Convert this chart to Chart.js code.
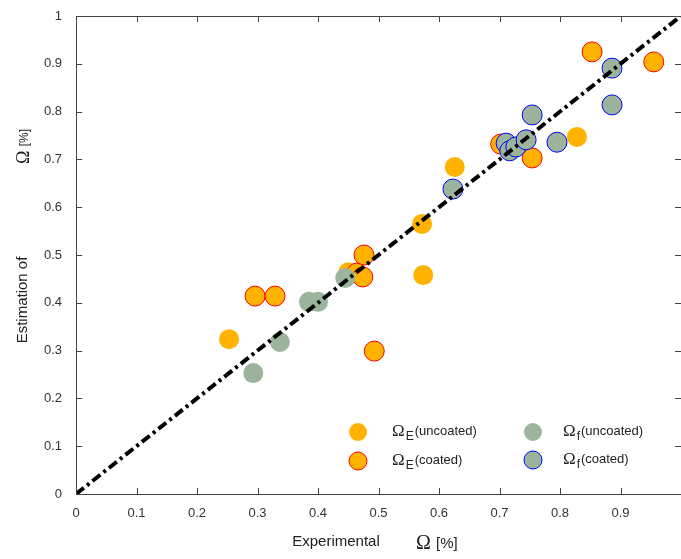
<!DOCTYPE html>
<html>
<head>
<meta charset="utf-8">
<script src="https://cdn.jsdelivr.net/npm/chart.js@4.4.1/dist/chart.umd.min.js"></script>
<style>
    html, body { margin: 0; padding: 0; background: #fff; overflow: hidden; }
    #wrap { position: relative; width: 681px; height: 559px; overflow: hidden; }
    #omegaChart { display: block; }
</style>
</head>
<body>
<div id="wrap"><canvas id="omegaChart"></canvas></div>
<script>
// Ω_E uncoated
const eUncoatedX = [0.253, 0.450, 0.572, 0.574, 0.626, 0.828];
const eUncoatedY = [0.324, 0.464, 0.565, 0.458, 0.684, 0.747];
// Ω_E coated
const eCoatedX = [0.296, 0.329, 0.476, 0.464, 0.474, 0.493, 0.702, 0.754, 0.853, 0.955];
const eCoatedY = [0.414, 0.414, 0.500, 0.462, 0.454, 0.299, 0.732, 0.703, 0.925, 0.904];
// Ω_f uncoated
const fUncoatedX = [0.293, 0.337, 0.385, 0.400, 0.445];
const fUncoatedY = [0.253, 0.318, 0.402, 0.402, 0.452];
// Ω_f coated
const fCoatedX = [0.623, 0.711, 0.717, 0.727, 0.744, 0.754, 0.795, 0.886, 0.886];
const fCoatedY = [0.638, 0.734, 0.718, 0.726, 0.741, 0.793, 0.736, 0.891, 0.814];
// 1:1 line
const diagX = [0, 1];
const diagY = [0, 1];

const tickValues = [0, 0.1, 0.2, 0.3, 0.4, 0.5, 0.6, 0.7, 0.8, 0.9, 1];

const ORANGE = '#ffb300';
const GREEN = '#9bb49b';
const AXIS = '#444';
const SANS = '"Liberation Sans", Arial, sans-serif';

function toPoints(xs, ys) {
    return xs.map((x, i) => ({x: x, y: ys[i]}));
}

// box around the plot + ticks pointing inwards
const framePlugin = {
    id: 'frame',
    afterDraw(chart) {
        const ctx = chart.ctx;
        const a = chart.chartArea;
        const sx = chart.scales.x, sy = chart.scales.y;
        ctx.save();
        ctx.strokeStyle = AXIS;
        ctx.lineWidth = 1;
        ctx.beginPath();
        ctx.moveTo(a.left + 0.5, a.bottom + 0.5);
        ctx.lineTo(a.left + 0.5, a.top + 0.5);
        ctx.lineTo(a.right + 0.5, a.top + 0.5);
        ctx.lineTo(a.right + 0.5, a.bottom + 0.5);
        ctx.lineTo(a.left + 0.5, a.bottom + 0.5);
        tickValues.forEach(v => {
            const px = Math.round(sx.getPixelForValue(v)) + 0.5;
            ctx.moveTo(px, a.bottom); ctx.lineTo(px, a.bottom - 6);
            ctx.moveTo(px, a.top); ctx.lineTo(px, a.top + 6);
            const py = Math.round(sy.getPixelForValue(v)) + 0.5;
            ctx.moveTo(a.left, py); ctx.lineTo(a.left + 6, py);
            ctx.moveTo(a.right, py); ctx.lineTo(a.right - 6, py);
        });
        ctx.stroke();
        ctx.restore();
    }
};

// Ω symbol with subscript, then rest of text
function drawOmega(ctx, x, y, sub, rest, omegaSize, restSize) {
    ctx.font = omegaSize + 'px "Liberation Serif", "DejaVu Serif", serif';
    ctx.fillText('Ω', x, y);
    let w = ctx.measureText('Ω').width;
    if (sub) {
        ctx.font = '12px ' + SANS;
        ctx.fillText(sub, x + w + 1, y + 4);
        w += ctx.measureText(sub).width + 1;
    }
    ctx.font = restSize + 'px ' + SANS;
    ctx.fillText(rest, x + w + 1, y - 1);
}

const labelsPlugin = {
    id: 'labels',
    afterDraw(chart) {
        const ctx = chart.ctx;
        ctx.save();
        ctx.fillStyle = '#222';
        ctx.textBaseline = 'alphabetic';
        ctx.textAlign = 'left';

        // legend inside the plot
        const items = [
            {cx: 358, cy: 432, fill: ORANGE, border: null, sub: 'E', text: '(uncoated)'},
            {cx: 358, cy: 461, fill: ORANGE, border: 'red', sub: 'E', text: '(coated)'},
            {cx: 533, cy: 432, fill: GREEN, border: null, sub: 'f', text: '(uncoated)'},
            {cx: 533, cy: 460, fill: GREEN, border: 'blue', sub: 'f', text: '(coated)'}
        ];
        items.forEach(it => {
            ctx.beginPath();
            ctx.arc(it.cx, it.cy, 9, 0, Math.PI * 2);
            ctx.fillStyle = it.fill;
            ctx.fill();
            if (it.border) {
                ctx.strokeStyle = it.border;
                ctx.lineWidth = 1;
                ctx.stroke();
            }
            ctx.fillStyle = '#222';
            drawOmega(ctx, it.cx + (it.sub === 'E' ? 34 : 30), it.cy + 4, it.sub, it.text, 17, 13);
        });

        // x title
        ctx.font = '15px ' + SANS;
        ctx.textAlign = 'center';
        ctx.fillText('Experimental', 336, 546);
        ctx.textAlign = 'left';
        drawOmega(ctx, 416, 549, '', ' [%]', 20, 15);

        // y title, rotated
        ctx.translate(27, 300);
        ctx.rotate(-Math.PI / 2);
        ctx.textAlign = 'center';
        ctx.font = '15px ' + SANS;
        ctx.fillText('Estimation of', 0, 0);
        ctx.textAlign = 'left';
        drawOmega(ctx, 136, 2, '', ' [%]', 18, 12);
        ctx.restore();
    }
};

function scatterSet(label, xs, ys, fill, border) {
    return {
        type: 'scatter',
        label: label,
        data: toPoints(xs, ys),
        backgroundColor: fill,
        borderColor: border || fill,
        borderWidth: border ? 1 : 0,
        pointRadius: 10,
        pointHoverRadius: 10,
        order: 1
    };
}

function initChart() {
    const ctx = document.getElementById('omegaChart').getContext('2d');
    new Chart(ctx, {
        data: {
            datasets: [
                {
                    type: 'line',
                    label: '1:1',
                    data: toPoints(diagX, diagY),
                    borderColor: '#000',
                    borderWidth: 4,
                    borderDash: [10, 4, 3, 4],
                    pointRadius: 0,
                    fill: false,
                    order: 0
                },
                scatterSet('Ωf coated', fCoatedX, fCoatedY, GREEN, 'blue'),
                scatterSet('Ωf uncoated', fUncoatedX, fUncoatedY, GREEN, null),
                scatterSet('ΩE coated', eCoatedX, eCoatedY, ORANGE, 'red'),
                scatterSet('ΩE uncoated', eUncoatedX, eUncoatedY, ORANGE, null)
            ]
        },
        options: {
            responsive: true,
            maintainAspectRatio: false,
            animation: false,
            layout: { autoPadding: false, padding: {top: 16, right: 0, left: 0, bottom: 0} },
            plugins: {
                legend: { display: false },
                tooltip: { enabled: false }
            },
            scales: {
                x: {
                    type: 'linear',
                    min: 0, max: 1,
                    afterFit: s => {
                        s.height = 65;
                        s.paddingLeft = 0; s.paddingRight = 0;
                    },
                    afterBuildTicks: s => { s.ticks = tickValues.map(v => ({value: v})); },
                    grid: { display: false, drawTicks: false },
                    border: { display: false },
                    ticks: {
                        padding: 12,
                        color: '#333',
                        font: { family: SANS, size: 13 },
                        maxRotation: 0,
                        callback: v => (v === 1 ? '' : String(+v.toFixed(1)))
                    }
                },
                y: {
                    type: 'linear',
                    min: 0, max: 1,
                    afterFit: s => {
                        s.width = 76;
                        s.paddingTop = 0; s.paddingBottom = 0;
                    },
                    afterBuildTicks: s => { s.ticks = tickValues.map(v => ({value: v})); },
                    grid: { display: false, drawTicks: false },
                    border: { display: false },
                    ticks: {
                        padding: 14,
                        color: '#333',
                        font: { family: SANS, size: 13 },
                        callback: v => String(+v.toFixed(1))
                    }
                }
            }
        },
        plugins: [framePlugin, labelsPlugin]
    });
}

document.addEventListener('DOMContentLoaded', initChart);
</script>
</body>
</html>
